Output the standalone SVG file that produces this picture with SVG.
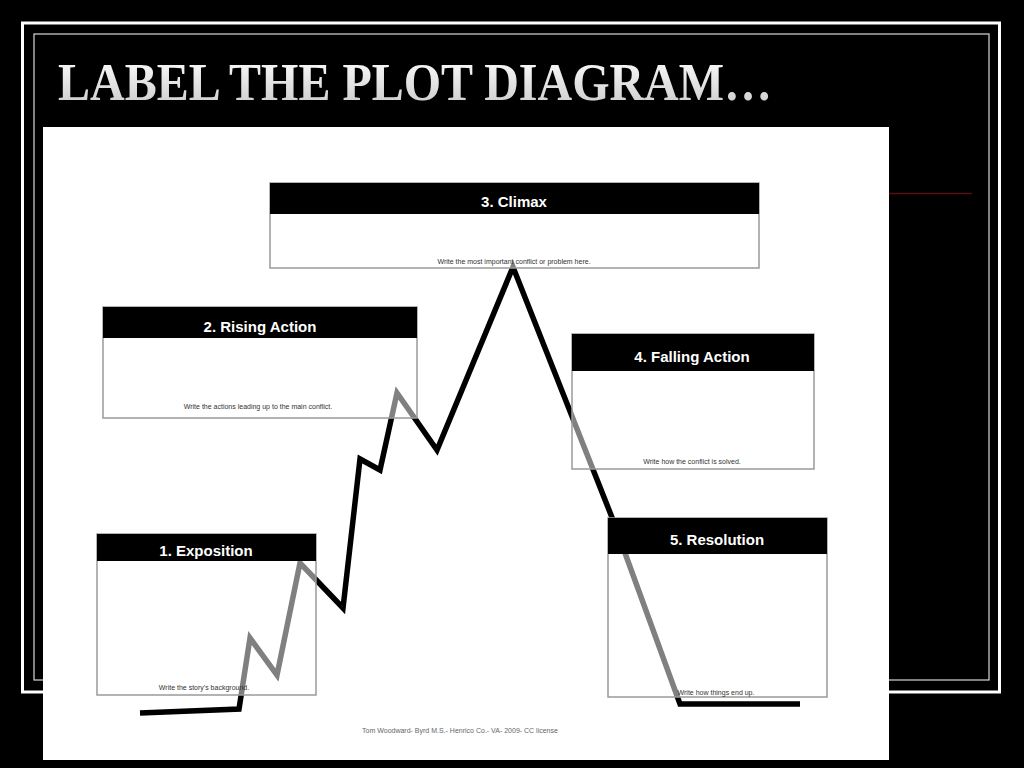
<svg xmlns="http://www.w3.org/2000/svg" width="1024" height="768" viewBox="0 0 1024 768">
  <defs>
    <linearGradient id="titleGrad" x1="0" y1="0" x2="0" y2="1">
      <stop offset="0" stop-color="#ffffff"/>
      <stop offset="1" stop-color="#c8c8c8"/>
    </linearGradient>
    <style>
      .hdr { fill: #000; }
      .body { fill: #fff; fill-opacity: 0.5; stroke: #9a9a9a; stroke-width: 1.5; }
      .htxt { font-family: "Liberation Sans", Arial, sans-serif; font-weight: bold; font-size: 15px; fill: #fff; text-anchor: middle; }
      .sub { font-family: "Liberation Sans", Arial, sans-serif; font-size: 7px; fill: #333; text-anchor: middle; }
      .plot { fill: none; stroke: #000; stroke-width: 5.5; stroke-linejoin: miter; stroke-linecap: butt; }
    </style>
  </defs>

  <rect x="0" y="0" width="1024" height="768" fill="#000"/>
  <!-- frame -->
  <rect x="22.5" y="23" width="977" height="669" fill="none" stroke="#fff" stroke-width="3"/>
  <rect x="34" y="34" width="955" height="646" fill="none" stroke="#d8d8d8" stroke-width="1.2"/>
  <line x1="889" y1="193.5" x2="972" y2="193.5" stroke="#5a1010" stroke-width="1.5"/>

  <text x="58" y="100" font-family="'Liberation Serif', 'Times New Roman', serif" font-weight="bold" font-size="52" fill="url(#titleGrad)" textLength="714" lengthAdjust="spacingAndGlyphs">LABEL THE PLOT DIAGRAM…</text>

  <!-- picture area -->
  <rect x="43" y="127" width="846" height="633" fill="#fff"/>

  <g id="connectors">
    <polyline class="plot" points="140,713 239,709 250,638 277,675 300,563 343,608 360,459 380,470 397,393 437,450 513,267 613,520 680,704 800,704"/>
  </g>

  <g id="climax">
    <rect class="body" x="270" y="183" width="489" height="85"/>
    <rect class="hdr" x="270" y="183" width="489" height="31"/>
    <text class="htxt" x="514" y="207">3. Climax</text>
    <text class="sub" x="514" y="264">Write the most important conflict or problem here.</text>
  </g>

  <g id="rising-action">
    <rect class="body" x="103" y="307" width="314" height="111"/>
    <rect class="hdr" x="103" y="307" width="314" height="31"/>
    <text class="htxt" x="260" y="332">2. Rising Action</text>
    <text class="sub" x="258" y="409">Write the actions leading up to the main conflict.</text>
  </g>

  <g id="falling-action">
    <rect class="body" x="572" y="334" width="242" height="135"/>
    <rect class="hdr" x="572" y="334" width="242" height="37"/>
    <text class="htxt" x="692" y="362">4. Falling Action</text>
    <text class="sub" x="692" y="464">Write how the conflict is solved.</text>
  </g>

  <g id="exposition">
    <rect class="body" x="97" y="534" width="219" height="161"/>
    <rect class="hdr" x="97" y="534" width="219" height="27"/>
    <text class="htxt" x="206" y="556">1. Exposition</text>
    <text class="sub" x="204" y="690">Write the story's background.</text>
  </g>

  <g id="resolution">
    <rect class="body" x="608" y="518" width="219" height="179"/>
    <rect class="hdr" x="608" y="518" width="219" height="36"/>
    <text class="htxt" x="717" y="545">5. Resolution</text>
    <text class="sub" x="716" y="695">Write how things end up.</text>
  </g>

  <text x="460" y="733" font-family="'Liberation Sans', Arial, sans-serif" font-size="7" fill="#666" text-anchor="middle">Tom Woodward- Byrd M.S.- Henrico Co.- VA- 2009- CC license</text>
</svg>
